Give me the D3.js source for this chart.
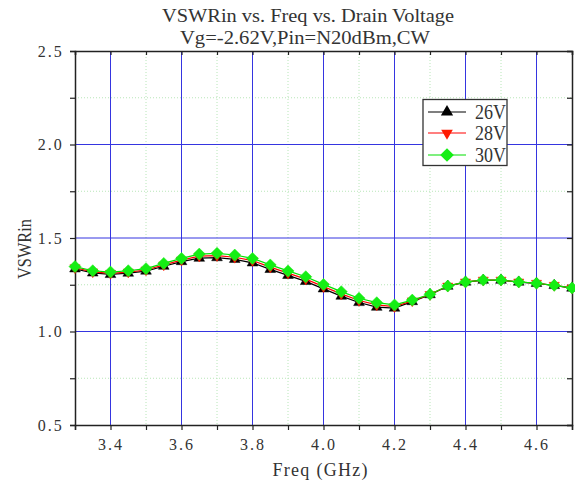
<!DOCTYPE html>
<html>
<head>
<meta charset="utf-8">
<script src="https://cdn.jsdelivr.net/npm/d3@7"></script>
<style>
  html, body { margin: 0; padding: 0; background: #fff; }
  svg { display: block; }
  text { font-family: "Liberation Serif", "DejaVu Serif", serif; fill: #333; }
</style>
</head>
<body>
<svg id="chart" width="575" height="484"></svg>
<script>
// Frequency sweep points (GHz)
const freq = [3.30, 3.35, 3.40, 3.45, 3.50, 3.55, 3.60, 3.65, 3.70, 3.75, 3.80, 3.85, 3.90, 3.95,
              4.00, 4.05, 4.10, 4.15, 4.20, 4.25, 4.30, 4.35, 4.40, 4.45, 4.50, 4.55, 4.60, 4.65, 4.70];

// Input VSWR per drain voltage
const vswr26 = [1.335, 1.313, 1.305, 1.312, 1.323, 1.349, 1.374, 1.392, 1.395, 1.386, 1.367, 1.332, 1.300, 1.268,
                1.228, 1.189, 1.155, 1.130, 1.125, 1.160, 1.197, 1.242, 1.264, 1.274, 1.274, 1.264, 1.257, 1.246, 1.232];
const vswr28 = [1.341, 1.319, 1.311, 1.318, 1.329, 1.356, 1.382, 1.403, 1.406, 1.397, 1.379, 1.344, 1.312, 1.280,
                1.240, 1.201, 1.166, 1.142, 1.133, 1.164, 1.198, 1.243, 1.265, 1.275, 1.275, 1.265, 1.258, 1.247, 1.233];
const vswr30 = [1.347, 1.325, 1.318, 1.325, 1.336, 1.364, 1.391, 1.414, 1.418, 1.409, 1.391, 1.356, 1.324, 1.293,
                1.252, 1.213, 1.178, 1.154, 1.142, 1.168, 1.199, 1.243, 1.265, 1.275, 1.275, 1.265, 1.258, 1.247, 1.233];

const seriesNames = ["26V", "28V", "30V"];

// Axis ticks
const xMajorTicks = [3.4, 3.6, 3.8, 4.0, 4.2, 4.4, 4.6];
const xMinorTicks = [3.3, 3.5, 3.7, 3.9, 4.1, 4.3, 4.5, 4.7];
const yMajorTicks = [0.5, 1.0, 1.5, 2.0, 2.5];
const yMinorTicks = [0.75, 1.25, 1.75, 2.25];

const titleLine1 = "VSWRin vs. Freq vs. Drain Voltage";
const titleLine2 = "Vg=-2.62V,Pin=N20dBm,CW";
const xTitle = "Freq (GHz)";
const yTitle = "VSWRin";

const svg = d3.select("#chart");
const plotL = 75, plotR = 572, plotT = 51, plotB = 425;

const x = d3.scaleLinear().domain([3.3, 4.7]).range([plotL, plotR]);
const y = d3.scaleLinear().domain([0.5, 2.5]).range([plotB, plotT]);

// Minor grid (light green dotted)
const grid = svg.append("g");
grid.selectAll(".vmin").data(xMinorTicks.filter(d => d > 3.3 && d < 4.7)).enter().append("line")
  .attr("x1", d => x(d)).attr("x2", d => x(d)).attr("y1", plotT).attr("y2", plotB)
  .attr("stroke", "#b8e6b8").attr("stroke-width", 1).attr("stroke-dasharray", "1,2");
grid.selectAll(".hmin").data(yMinorTicks).enter().append("line")
  .attr("x1", plotL).attr("x2", plotR).attr("y1", d => y(d)).attr("y2", d => y(d))
  .attr("stroke", "#b8e6b8").attr("stroke-width", 1).attr("stroke-dasharray", "1,2");
// Major grid (blue)
grid.selectAll(".vmaj").data(xMajorTicks).enter().append("line")
  .attr("x1", d => x(d)).attr("x2", d => x(d)).attr("y1", plotT).attr("y2", plotB)
  .attr("stroke", "#3535e0").attr("stroke-width", 1);
grid.selectAll(".hmaj").data(yMajorTicks.filter(d => d > 0.5 && d < 2.5)).enter().append("line")
  .attr("x1", plotL).attr("x2", plotR).attr("y1", d => y(d)).attr("y2", d => y(d))
  .attr("stroke", "#3535e0").attr("stroke-width", 1);

// Axes
const allX = xMajorTicks.concat(xMinorTicks).sort(d3.ascending);
const allY = yMajorTicks.concat(yMinorTicks).sort(d3.ascending);

const fmt = d3.format(".1f");
const xAxis = svg.append("g").attr("transform", `translate(0,${plotB})`)
  .call(d3.axisBottom(x).tickValues(allX).tickSize(5)
    .tickFormat(d => xMajorTicks.includes(d) ? fmt(d) : ""));
const yAxis = svg.append("g").attr("transform", `translate(${plotL},0)`)
  .call(d3.axisLeft(y).tickValues(allY).tickSize(5)
    .tickFormat(d => yMajorTicks.includes(d) ? fmt(d) : ""));
const topAxis = svg.append("g").attr("transform", `translate(0,${plotT})`)
  .call(d3.axisTop(x).tickValues(allX).tickSize(-4).tickFormat(""));
const rightAxis = svg.append("g").attr("transform", `translate(${plotR},0)`)
  .call(d3.axisRight(y).tickValues(allY).tickSize(-5).tickFormat(""));

[xAxis, yAxis, topAxis, rightAxis].forEach(a => {
  a.select(".domain").attr("stroke", "#222").attr("stroke-width", 1.5);
  a.selectAll(".tick line").attr("stroke", "#222").attr("stroke-width", 1.2);
  a.selectAll(".tick text").attr("font-family", "Liberation Serif").attr("font-size", 16)
    .attr("fill", "#555").attr("letter-spacing", "2px");
});
xAxis.selectAll(".tick text").attr("dy", "1.05em");
yAxis.selectAll(".tick text").attr("dx", "-0.2em");

// Axis titles
svg.append("text").attr("x", 320).attr("y", 476).attr("text-anchor", "middle")
  .attr("font-size", 18).attr("textLength", 95).text(xTitle);
svg.append("text").attr("transform", "translate(31,249) rotate(-90)").attr("text-anchor", "middle")
  .attr("font-size", 18).attr("textLength", 60).attr("lengthAdjust", "spacingAndGlyphs").text(yTitle);

// Title
svg.append("text").attr("x", 308).attr("y", 22).attr("text-anchor", "middle")
  .attr("font-size", 18).attr("textLength", 292).attr("lengthAdjust", "spacingAndGlyphs").text(titleLine1);
svg.append("text").attr("x", 305).attr("y", 44).attr("text-anchor", "middle")
  .attr("font-size", 18).attr("textLength", 250).attr("lengthAdjust", "spacingAndGlyphs").text(titleLine2);

// Series: square symbol turned 45 degrees gives an equal-sided diamond
const series = [
  { name: seriesNames[0], values: vswr26, color: "#000000", fill: "#000000", symbol: d3.symbolTriangle, size: 50, rot: 0 },
  { name: seriesNames[1], values: vswr28, color: "#ff0000", fill: "#ff1a00", symbol: d3.symbolTriangle, size: 45, rot: 180 },
  { name: seriesNames[2], values: vswr30, color: "#00e000", fill: "#14ee14", symbol: d3.symbolSquare, size: 72, rot: 45 }
];

const line = d3.line().x((d, i) => x(freq[i])).y(d => y(d));
const plot = svg.append("g");

series.forEach(s => {
  plot.append("path").datum(s.values).attr("d", line)
    .attr("fill", "none").attr("stroke", s.color).attr("stroke-width", 1.2);
  plot.selectAll(null).data(s.values).enter().append("path")
    .attr("d", d3.symbol().type(s.symbol).size(s.size))
    .attr("transform", (d, i) => `translate(${x(freq[i])},${y(d)}) rotate(${s.rot})`)
    .attr("fill", s.fill).attr("stroke", s.fill).attr("stroke-width", 0.5);
});

// Legend
const lg = svg.append("g");
lg.append("rect").attr("x", 423).attr("y", 99.5).attr("width", 84).attr("height", 66)
  .attr("fill", "#fff").attr("stroke", "#333").attr("stroke-width", 1.3);
const legendY = [112, 133, 155];
series.forEach((s, i) => {
  const ly = legendY[i];
  lg.append("line").attr("x1", 428).attr("x2", 466).attr("y1", ly).attr("y2", ly)
    .attr("stroke", s.color).attr("stroke-width", 1.2);
  lg.append("path").attr("d", d3.symbol().type(s.symbol).size(s.size * 1.3))
    .attr("transform", `translate(447,${ly}) rotate(${s.rot})`).attr("fill", s.fill);
  lg.append("text").attr("x", 475).attr("y", ly + 7).attr("font-size", 20)
    .attr("textLength", 31).attr("lengthAdjust", "spacingAndGlyphs").attr("fill", "#333").text(s.name);
});
</script>
</body>
</html>
